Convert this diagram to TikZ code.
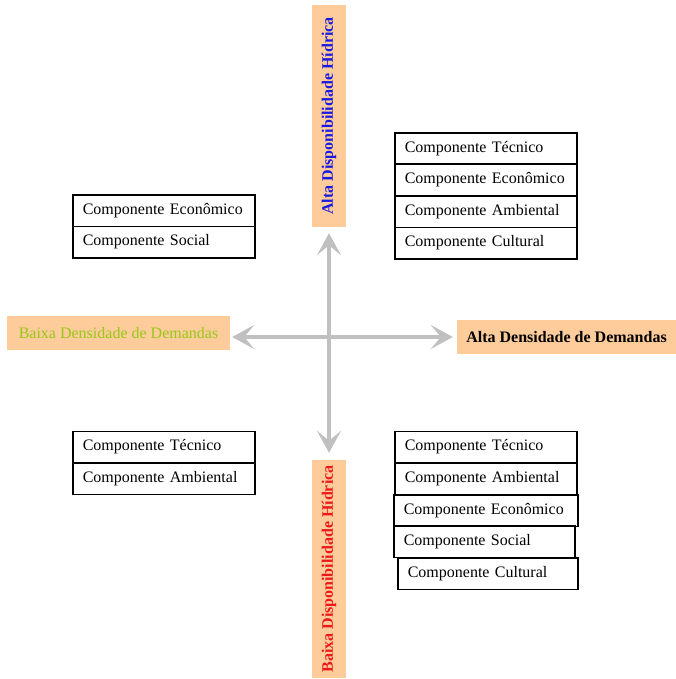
\documentclass[tikz,border=0pt]{standalone}
\usepackage{fontspec}
\setmainfont{Liberation Serif}
\usetikzlibrary{arrows.meta}
\definecolor{peach}{RGB}{253,204,154}
\definecolor{axisgray}{RGB}{192,192,192}
\definecolor{lblblue}{RGB}{25,25,225}
\definecolor{lblred}{RGB}{235,25,25}
\definecolor{lblgreen}{RGB}{150,200,20}
\tikzset{
  comp/.style={draw, line width=1.6pt, minimum width=182pt, minimum height=31.5pt,
    text width=162pt, align=left, inner xsep=10pt, inner ysep=0pt, anchor=north west,
    font=\fontsize{16}{18}\selectfont},
  lbl/.style={fill=peach, inner sep=0pt, font=\fontsize{16}{18}\selectfont},
  axisarrow/.style={draw=axisgray, line width=4pt,
    {Stealth[length=22pt 0 0,width=24pt 0 0,inset=10pt 0 0]}-{Stealth[length=22pt 0 0,width=24pt 0 0,inset=10pt 0 0]}}
}
\begin{document}
\begin{tikzpicture}[x=1pt,y=-1pt]
\useasboundingbox (0,0) rectangle (676,679);
% axis labels
\node[lbl, rotate=90, minimum width=222pt, minimum height=34pt, text=lblblue, font=\fontsize{16}{18}\selectfont\bfseries] (top) at (329,116) {Alta Disponibilidade Hídrica};
\node[lbl, rotate=90, minimum width=218pt, minimum height=34pt, text=lblred, font=\fontsize{16}{18}\selectfont\bfseries] (bot) at (329,569) {Baixa Disponibilidade Hídrica};
\node[lbl, minimum width=223pt, minimum height=34pt, text=lblgreen] (left) at (118.5,333) {Baixa Densidade de Demandas};
\node[lbl, minimum width=219pt, minimum height=34pt, text=black, font=\fontsize{16}{18}\selectfont\bfseries] (right) at (566.5,337) {Alta Densidade de Demandas};
\coordinate (c) at (329,337);
% arrows
\draw[axisarrow, shorten <=6pt, shorten >=7pt] (top.west) -- (bot.east);
\draw[axisarrow, shorten <=2pt, shorten >=4pt] (c -| left.east) -- (c -| right.west);
% top-right
\node[comp] (tr1) at (394,132) {Componente Técnico};
\node[comp] (tr2) at (394,163.5) {Componente Econômico};
\node[comp] (tr3) at (394,195) {Componente Ambiental};
\node[comp] (tr4) at (394,226.5) {Componente Cultural};
% top-left
\node[comp] (tl1) at (72,194) {Componente Econômico};
\node[comp] (tl2) at (72,225.5) {Componente Social};
% bottom-left
\node[comp] (bl1) at (72,430.5) {Componente Técnico};
\node[comp] (bl2) at (72,462) {Componente Ambiental};
% bottom-right
\node[comp] (br1) at (394,430.5) {Componente Técnico};
\node[comp] (br2) at (394,462) {Componente Ambiental};
\node[comp, minimum width=184pt, text width=164pt] (br3) at (393,494) {Componente Econômico};
\node[comp, minimum width=181pt, text width=161pt] (br4) at (393,525) {Componente Social};
\node[comp, minimum width=180pt, text width=160pt] (br5) at (397,557) {Componente Cultural};
\end{tikzpicture}
\end{document}
